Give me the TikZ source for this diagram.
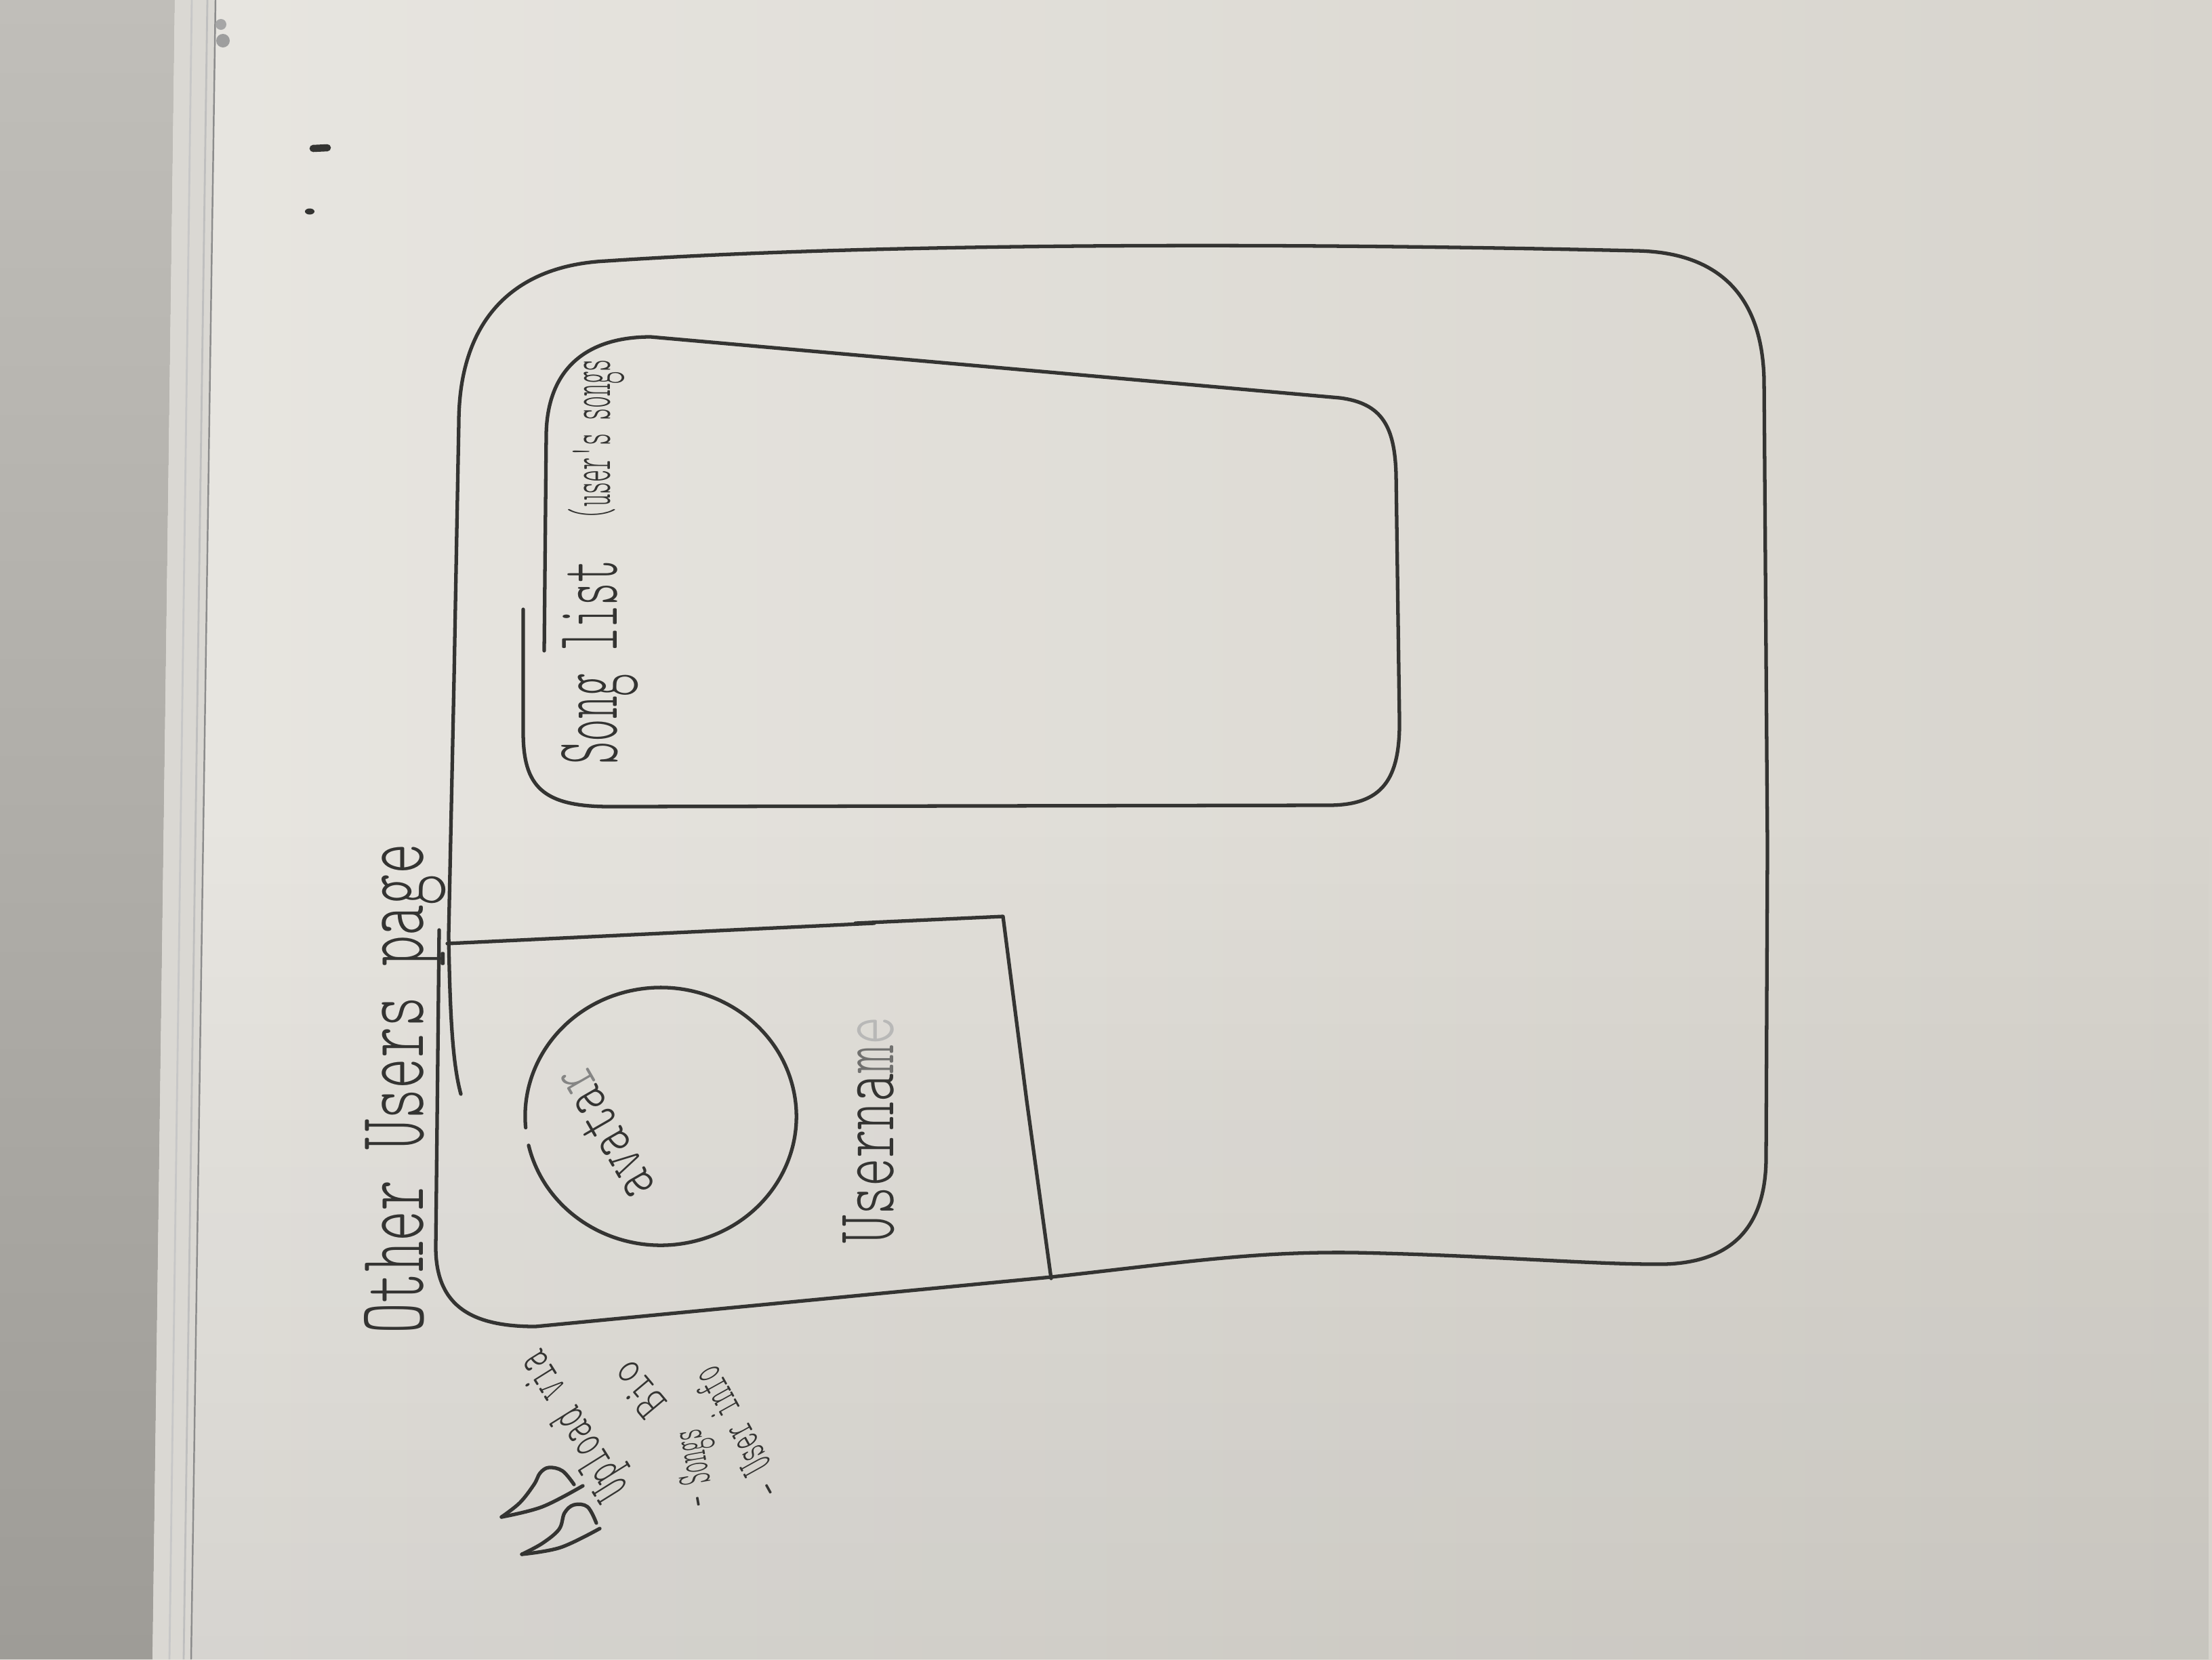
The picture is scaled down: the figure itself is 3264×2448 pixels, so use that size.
\documentclass[tikz,border=0pt]{standalone}
\usepackage{fontspec}
\newfontfamily\hand{Latin Modern Mono Light}
\usetikzlibrary{calc,fadings}
\definecolor{inkc}{RGB}{52,52,50}
\definecolor{wallA}{RGB}{192,190,185}
\definecolor{wallB}{RGB}{158,156,151}
\definecolor{frameA}{RGB}{218,216,211}
\definecolor{boardA}{RGB}{233,231,226}
\definecolor{boardB}{RGB}{215,212,205}
\begin{document}
\begin{tikzpicture}[x=0.01cm,y=-0.01cm,
  ink/.style={draw=inkc, line width=1.5pt, line cap=round, line join=round},
  hw/.style={inner sep=0pt, text=inkc, font=\hand}]
\useasboundingbox (0,0) rectangle (3264,2448);

% whiteboard surface
\shade[left color=boardA, right color=boardB] (0,0) rectangle (3264,2448);
\fill[black, opacity=0.07, path fading=north] (0,1200) rectangle (3264,2448);

% wall beside the board and the board frame
\shade[top color=wallA, bottom color=wallB] (0,0) -- (258,0) -- (225,2448) -- (0,2448) -- cycle;
\fill[frameA] (258,0) -- (318,0) -- (282,2448) -- (225,2448) -- cycle;
\draw[black!22, line width=0.8pt] (283,0) -- (250,2448);
\draw[black!25, line width=0.8pt] (306,0) -- (271,2448);
\draw[black!45, line width=0.7pt] (318,0) -- (282,2448);
\fill[black!35] (326,36) circle (8);
\fill[black!38] (329,60) circle (10);

% specks on the board
\draw[inkc, line width=3pt, line cap=round] (462,219) -- (483,218);
\fill[inkc] (457,312) ellipse [x radius=0.07cm, y radius=0.045cm];

% outer page frame
\draw[ink] (648,1372) -- (643,1840)
  .. controls (643,1930) and (700,1957) .. (790,1957)
  -- (1551,1884)
  .. controls (1750,1862) and (1850,1846) .. (2000,1848)
  .. controls (2200,1852) and (2350,1866) .. (2456,1865)
  .. controls (2565,1862) and (2606,1800) .. (2606,1707)
  -- (2608,1249) -- (2603,560)
  .. controls (2600,430) and (2530,372) .. (2415,370)
  .. controls (1900,358) and (1300,358) .. (895,385)
  .. controls (750,392) and (677,480) .. (677,624)
  -- (670,1000) -- (662,1380)
  .. controls (664,1500) and (668,1570) .. (680,1614);

% song list panel
\draw[ink] (803,960) -- (806,640)
  .. controls (808,540) and (870,497) .. (960,497)
  -- (1977,587)
  .. controls (2040,595) and (2058,630) .. (2060,700)
  -- (2065,1062)
  .. controls (2066,1150) and (2040,1188) .. (1960,1188)
  -- (900,1190)
  .. controls (800,1190) and (772,1160) .. (772,1080)
  -- (772,899);

% user panel
\draw[ink] (660,1392) -- (1290,1362);
\draw[ink] (1262,1362) -- (1480,1352) -- (1515,1624) -- (1551,1886);

% avatar circle, left open
\coordinate (avc) at (975,1647);
\draw[ink] ($(avc)+(193:2cm and 1.9cm)$)
  arc[start angle=193, end angle=545, x radius=2cm, y radius=1.9cm];

% labels
\node[hw, rotate=90, anchor=base] (title) at (624,1606)
  {\resizebox{7.22cm}{0.87cm}{Other Users page}};
\node[hw, rotate=90, anchor=base] (songlist) at (910,977)
  {\resizebox{3.01cm}{0.82cm}{Song list}};
\node[hw, rotate=90, anchor=base] (songsub) at (900,648)
  {\resizebox{2.36cm}{0.62cm}{(user's songs}};
\node[hw, rotate=90, anchor=base] (username) at (1318,1667)
  {\resizebox{3.34cm}{0.75cm}{Userna\textcolor{inkc!70}{m}\textcolor{inkc!35}{e}}};
\node[hw, rotate=120, anchor=center] (avatar) at (892,1672)
  {\resizebox{2.13cm}{0.55cm}{avata\textcolor{inkc!60}{r}}};

% notes beside the page
\node[hw, rotate=119, anchor=center] (noteuser) at (1088,2113)
  {\resizebox{2.1cm}{0.45cm}{- User info}};
\node[hw, rotate=100, anchor=center] (notesongs) at (1030,2165)
  {\resizebox{1.15cm}{0.45cm}{- Songs}};
\node[hw, rotate=130, anchor=center] (notebio) at (942,2050)
  {\resizebox{0.85cm}{0.45cm}{Bio}};
\node[hw, rotate=122, anchor=center] (noteupload) at (850,2100)
  {\resizebox{2.45cm}{0.5cm}{Upload via}};

% heart
\draw[ink] plot[smooth, tension=0.6] coordinates {
  (740,2238) (767,2217) (788,2190) (797,2173) (810,2165) (830,2170) (847,2190)};
\draw[ink] plot[smooth, tension=0.6] coordinates {(740,2238) (800,2223) (860,2192)};
\draw[ink] plot[smooth, tension=0.6] coordinates {
  (770,2293) (800,2277) (825,2256) (833,2232) (847,2220) (867,2223) (880,2247)};
\draw[ink] plot[smooth, tension=0.6] coordinates {(770,2293) (827,2283) (885,2255)};
\end{tikzpicture}
\end{document}
